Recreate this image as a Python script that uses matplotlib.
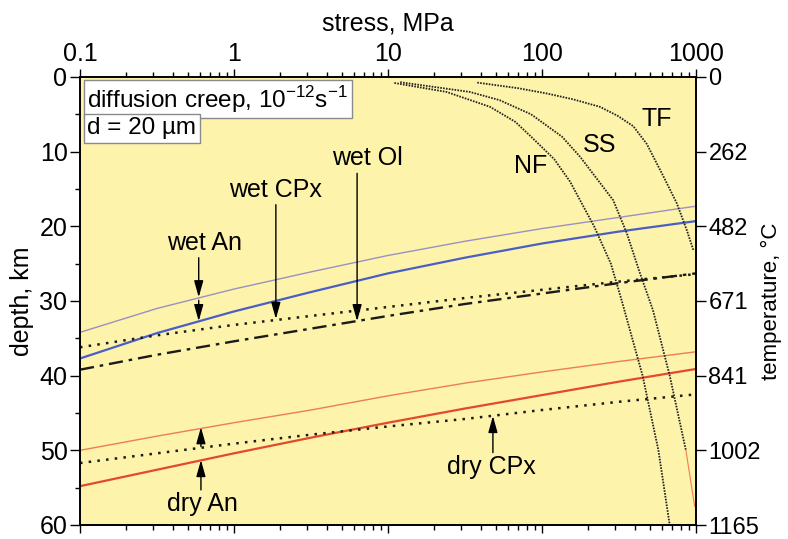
import matplotlib
matplotlib.use('Agg')
import matplotlib.pyplot as plt
from matplotlib.ticker import FixedLocator, NullFormatter, MultipleLocator, NullLocator

plt.rcParams['font.family'] = ['Liberation Sans', 'DejaVu Sans']
plt.rcParams['mathtext.fontset'] = 'custom'
plt.rcParams['mathtext.rm'] = 'Liberation Sans'

# ---- data ----
stress_pts = [0.1, 0.316, 1, 3.16, 10, 31.6, 100, 316, 1000]
wet_an_thin = [34.2, 31.0, 28.4, 26.1, 23.9, 22.0, 20.3, 18.8, 17.3]
wet_an_thick = [37.7, 34.3, 31.4, 28.8, 26.3, 24.2, 22.3, 20.7, 19.3]
wet_cpx = [36.2, 34.6, 33.2, 32.0, 30.8, 29.6, 28.5, 27.4, 26.4]
wet_ol = [39.2, 37.2, 35.4, 33.7, 32.0, 30.4, 29.0, 27.6, 26.3]
dry_an_thin = [50.0, 48.1, 46.3, 44.6, 42.7, 41.0, 39.5, 38.1, 36.8]
dry_an_thick = [54.8, 52.6, 50.4, 48.3, 46.3, 44.4, 42.6, 40.8, 39.1]
dry_cpx = [51.7, 50.4, 49.1, 47.9, 46.8, 45.8, 44.6, 43.5, 42.5]

nf_depth = [0.8, 2, 4, 6, 8, 11, 14, 20, 25, 30, 40, 50, 60]
nf_stress = [11, 24, 46, 67, 85, 120, 152, 218, 280, 330, 450, 570, 675]
ss_depth = [0.7, 2, 3.1, 5, 8, 10.7, 16.5, 20.9, 26.3, 31.2, 40, 50]
ss_stress = [12, 34, 53, 85, 135, 177, 290, 355, 433, 525, 675, 860]
ss_tail_depth = [50, 57.5]
ss_tail_stress = [860, 980]
tf_depth = [0.75, 1.5, 2.2, 3.0, 4.0, 5.2, 6.6, 9.0, 13.3, 16.9, 20.5, 23.2]
tf_stress = [38, 70, 107, 160, 238, 310, 392, 480, 614, 750, 871, 962]

x_ticks = [0.1, 1, 10, 100, 1000]
x_ticklabels = ['0.1', '1', '10', '100', '1000']
depth_ticks = [0, 10, 20, 30, 40, 50, 60]
temp_labels = ['0', '262', '482', '671', '841', '1002', '1165']

# ---- figure ----
fig = plt.figure(figsize=(7.88, 5.39), dpi=100)
ax = fig.add_axes([80/788, 14/539, 616/788, 448/539])
ax.set_facecolor('#fdf3aa')
ax.set_xscale('log')
ax.set_xlim(0.1, 1000)
ax.set_ylim(60, 0)

c_pthin = '#9b90c2'
c_blue = '#4a5ec6'
c_othin = '#ee7d55'
c_red = '#e4492c'

ax.plot(stress_pts, wet_an_thin, color=c_pthin, lw=1.0)
ax.plot(stress_pts, wet_an_thick, color=c_blue, lw=1.6)
ax.plot(stress_pts, wet_cpx, color='#1a1a1a', lw=1.8, linestyle=(0, (1, 2.5)))
ax.plot(stress_pts, wet_ol, color='#1a1a1a', lw=1.7, linestyle=(0, (6, 2.5, 1.5, 2.5)))
ax.plot(stress_pts, dry_an_thin, color=c_othin, lw=1.0)
ax.plot(stress_pts, dry_an_thick, color=c_red, lw=1.6)
ax.plot(stress_pts, dry_cpx, color='#1a1a1a', lw=1.8, linestyle=(0, (1, 2.5)))

fr_style = dict(color='#222222', lw=1.3, linestyle=(0, (0.9, 0.7)))
ax.plot(nf_stress, nf_depth, **fr_style)
ax.plot(ss_stress, ss_depth, **fr_style)
ax.plot(ss_tail_stress, ss_tail_depth, color=c_othin, lw=0.8)
ax.plot(tf_stress, tf_depth, **fr_style)

# ---- axes styling ----
ax.xaxis.tick_top()
ax.xaxis.set_label_position('top')
ax.xaxis.set_major_locator(FixedLocator(x_ticks))
ax.set_xticklabels(x_ticklabels)
ax.xaxis.set_minor_locator(FixedLocator([m * d for d in [0.1, 1, 10, 100] for m in range(2, 10)]))
ax.xaxis.set_minor_formatter(NullFormatter())
ax.tick_params(axis='x', which='both', direction='out', top=True, bottom=True,
               labeltop=True, labelbottom=False, labelsize=18, width=1.0, pad=2)
ax.tick_params(axis='x', which='major', length=6)
ax.tick_params(axis='x', which='minor', length=3.5)

ax.yaxis.set_major_locator(FixedLocator(depth_ticks))
ax.yaxis.set_minor_locator(MultipleLocator(5))
ax.tick_params(axis='y', which='both', direction='out', left=True, right=False,
               labelsize=18, width=1.0, pad=2)
ax.tick_params(axis='y', which='major', length=7)
ax.tick_params(axis='y', which='minor', length=3.5)

for s in ax.spines.values():
    s.set_linewidth(1.2)

ax.set_xlabel('stress, MPa', fontsize=18, labelpad=8)
ax.set_ylabel('depth, km', fontsize=18, labelpad=4)

ax2 = ax.twinx()
ax2.set_ylim(60, 0)
ax2.yaxis.set_major_locator(FixedLocator(depth_ticks))
ax2.set_yticklabels(temp_labels)
ax2.yaxis.set_minor_locator(NullLocator())
ax2.tick_params(axis='y', direction='out', length=7, width=1.0, labelsize=17, pad=2)
ax2.set_ylabel('temperature, \u00b0C', fontsize=16, labelpad=0)
for s in ax2.spines.values():
    s.set_linewidth(1.2)

# ---- text boxes ----
bbox = dict(boxstyle='square,pad=0.15', facecolor='white', edgecolor='#8a8a8a', lw=1.0)
ax.text(0.012, 0.985, r'diffusion creep, 10$^{\mathregular{-12}}$s$^{\mathregular{-1}}$',
        transform=ax.transAxes, ha='left', va='top', fontsize=17.5, bbox=bbox)
ax.text(0.012, 0.910, 'd = 20 \u00b5m', transform=ax.transAxes, ha='left', va='top',
        fontsize=17.5, bbox=bbox)

# ---- labels and arrows ----
aprops = dict(arrowstyle='-|>,head_length=1.0,head_width=0.28', color='black', lw=1.0,
              mutation_scale=10, shrinkA=0, shrinkB=0)

def arrow(x, y0, y1):
    ax.annotate('', xy=(x, y1), xytext=(x, y0), arrowprops=aprops)

tsize = 18
ax.text(0.64, 22.2, 'wet An', ha='center', va='center', fontsize=tsize)
arrow(0.59, 24.2, 29.5)
arrow(0.59, 29.9, 32.7)

ax.text(1.85, 15.1, 'wet CPx', ha='center', va='center', fontsize=tsize)
arrow(1.87, 17.1, 32.4)

ax.text(7.3, 10.9, 'wet Ol', ha='center', va='center', fontsize=tsize)
arrow(6.3, 12.9, 32.7)

ax.text(0.62, 57.2, 'dry An', ha='center', va='center', fontsize=tsize)
arrow(0.61, 55.3, 51.3)
arrow(0.61, 49.5, 46.9)

ax.text(47, 52.2, 'dry CPx', ha='center', va='center', fontsize=tsize)
arrow(48, 50.3, 45.4)

ax.text(84, 11.9, 'NF', ha='center', va='center', fontsize=tsize)
ax.text(238, 9.1, 'SS', ha='center', va='center', fontsize=tsize)
ax.text(560, 5.6, 'TF', ha='center', va='center', fontsize=tsize)

fig.savefig('out.png', dpi=100)
